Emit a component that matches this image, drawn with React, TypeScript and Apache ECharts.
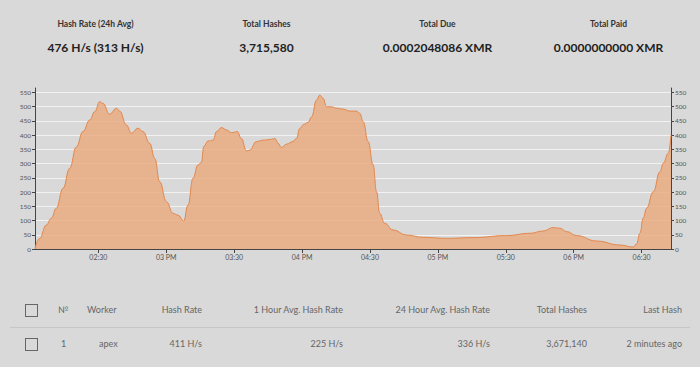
import React, { useEffect, useRef } from "react";
import * as echarts from "echarts";

// minutes after 14:00
const minutes = [2, 4, 7, 9.2, 11.4, 14.4, 17.3, 20.3, 23.2, 26.2, 28.4, 30.6, 32, 35, 38, 39.4, 42.4, 44.6, 47.5, 49.7, 52.7, 54.9, 57.1, 60.1, 63, 65.2, 67.7, 69.6, 71.8, 74, 75.5, 76.6, 78.4, 80.7, 82.2, 84.4, 86.6, 88.8, 91.3, 93.2, 95.4, 96.9, 99.8, 102.8, 106.5, 108, 109.4, 110.9, 113.1, 116, 117.5, 119, 120.7, 122.6, 124.2, 126.4, 127.8, 129.3, 130.8, 133, 135.2, 138.1, 141.1, 144, 145.5, 147, 149.2, 151.4, 152.9, 154.3, 156.5, 160.2, 166.1, 173.5, 183.8, 195.6, 210.3, 220.6, 226.5, 230.9, 233.9, 236.9, 241.3, 250.1, 260.4, 266.3, 267.8, 269.3, 270.7, 272.2, 275.2, 278.1, 279.6, 281.8, 283];
const hashRate = [2, 37, 84, 108, 143, 213, 283, 359, 412, 453, 482, 517, 511, 473, 494, 484, 435, 406, 424, 412, 371, 318, 236, 166, 125, 119, 98, 154, 248, 295, 304, 360, 379, 382, 412, 426, 418, 408, 412, 388, 344, 347, 377, 382, 385, 388, 371, 356, 368, 377, 388, 423, 437, 444, 464, 523, 540, 529, 499, 499, 494, 491, 484, 484, 476, 447, 377, 295, 201, 125, 90, 67, 49, 41, 37.5, 40, 47, 55, 63, 75, 73, 61, 47, 28, 14, 7, 18, 56, 108, 143, 201, 271, 301, 336, 400];

const xTickMinutes = [30, 60, 90, 120, 150, 180, 210, 240, 270];
const xTickLabels = ["02:30", "03 PM", "03:30", "04 PM", "04:30", "05 PM", "05:30", "06 PM", "06:30"];
const yTicks = [0, 50, 100, 150, 200, 250, 300, 350, 400, 450, 500, 550];

const statTitles = ["Hash Rate (24h Avg)", "Total Hashes", "Total Due", "Total Paid"];
const statValues = ["476 H/s (313 H/s)", "3,715,580", "0.0002048086 XMR", "0.0000000000 XMR"];

const tableHeaders = ["№", "Worker", "Hash Rate", "1 Hour Avg. Hash Rate", "24 Hour Avg. Hash Rate", "Total Hashes", "Last Hash"];
const tableRow = ["1", "apex", "411 H/s", "225 H/s", "336 H/s", "3,671,140", "2 minutes ago"];

const FONT = "Lato, 'Open Sans', sans-serif";

function Chart() {
  const ref = useRef<HTMLDivElement>(null);
  useEffect(() => {
    if (!ref.current) return;
    const chart = echarts.init(ref.current, undefined, { renderer: "svg" });
    const data = minutes.map((m, i) => [m, hashRate[i]]);
    const yAxisCommon = {
      type: "value" as const,
      min: 0,
      max: 565,
      axisLine: { show: true, lineStyle: { color: "#444", width: 1 } },
      axisTick: { show: true, length: 3, customValues: yTicks, lineStyle: { color: "#444" } },
      axisLabel: { customValues: yTicks, fontSize: 6.5, color: "#555", margin: 4, fontFamily: FONT },
    };
    chart.setOption({
      animation: false,
      backgroundColor: "transparent",
      grid: { left: 35, right: 29, top: 8, height: 161 },
      xAxis: {
        type: "value",
        min: 2,
        max: 283,
        axisLine: { show: true, onZero: false, lineStyle: { color: "#444", width: 1 } },
        axisTick: { show: true, length: 4, customValues: xTickMinutes, lineStyle: { color: "#444" } },
        axisLabel: {
          customValues: xTickMinutes,
          fontSize: 7,
          color: "#555",
          margin: 4,
          fontFamily: FONT,
          formatter: (v: number) => xTickLabels[xTickMinutes.indexOf(v)] ?? "",
        },
        splitLine: { show: false },
      },
      yAxis: [
        {
          ...yAxisCommon,
          position: "left",
          splitLine: { show: true, lineStyle: { color: "#f2f2f2", width: 1 } },
        },
        {
          ...yAxisCommon,
          position: "right",
          splitLine: { show: false },
        },
      ],
      series: [
        {
          type: "line",
          data,
          smooth: 0.45,
          smoothMonotone: "x",
          showSymbol: false,
          lineStyle: { color: "#e2874c", width: 1 },
          areaStyle: { color: "#eaa678", opacity: 0.78 },
        },
      ],
    });
    return () => chart.dispose();
  }, []);
  return <div ref={ref} style={{ position: "absolute", left: 0, top: 80, width: 700, height: 190 }} />;
}

const checkbox: React.CSSProperties = {
  position: "absolute",
  width: 11,
  height: 11,
  border: "1px solid #666",
  background: "transparent",
};

export default function App() {
  const headerRight = [null, null, 202, 343, 490, 587, 682];
  const txt: React.CSSProperties = { position: "absolute", fontFamily: FONT, fontSize: 9, color: "#666", whiteSpace: "nowrap", lineHeight: "12px" };
  return (
    <div style={{ position: "fixed", left: 0, top: 0, width: 700, height: 367, background: "#d9d9d9", overflow: "hidden" }}>
      {statTitles.map((t, i) => (
        <div key={t} style={{ position: "absolute", left: 10 + i * 171, width: 171, top: 18, textAlign: "center", fontFamily: FONT, fontWeight: 700, fontSize: 8.5, color: "#333", lineHeight: "12px" }}>{t}</div>
      ))}
      {statValues.map((t, i) => (
        <div key={t} style={{ position: "absolute", left: 10 + i * 171, width: 171, top: 40, textAlign: "center", fontFamily: FONT, fontWeight: 700, fontSize: 12, color: "#222", lineHeight: "16px" }}>{t}</div>
      ))}
      <Chart />
      <div style={{ ...checkbox, left: 25, top: 304 }} />
      <div style={{ ...txt, left: 58, top: 304 }}>{tableHeaders[0]}</div>
      <div style={{ ...txt, left: 87, top: 304 }}>{tableHeaders[1]}</div>
      {tableHeaders.slice(2).map((h, i) => (
        <div key={h} style={{ ...txt, right: 700 - (headerRight[i + 2] as number), top: 304 }}>{h}</div>
      ))}
      <div style={{ position: "absolute", left: 10, width: 680, top: 327, height: 1, background: "#c6c6c6" }} />
      <div style={{ ...checkbox, left: 25, top: 338 }} />
      <div style={{ ...txt, left: 61, top: 338 }}>{tableRow[0]}</div>
      <div style={{ ...txt, left: 99, top: 338 }}>{tableRow[1]}</div>
      {tableRow.slice(2).map((h, i) => (
        <div key={h} style={{ ...txt, right: 700 - (headerRight[i + 2] as number), top: 338 }}>{h}</div>
      ))}
    </div>
  );
}
